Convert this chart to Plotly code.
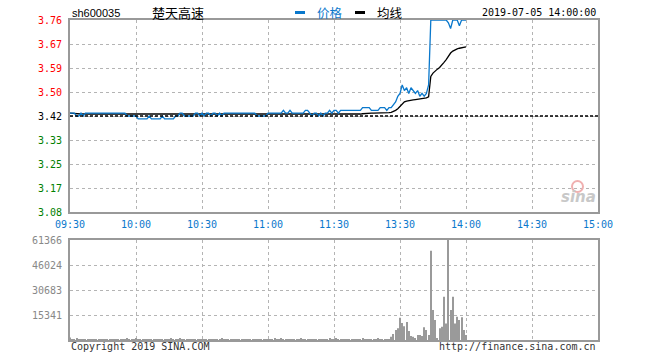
import plotly.graph_objects as go

# ---------------- data ----------------
STOCK_CODE = "sh600035"
STOCK_NAME = "楚天高速"
TIMESTAMP = "2019-07-05 14:00:00"
PREV_CLOSE = 3.42

# minute prices from 09:30 (index 0) to 14:00 (index 180)
PRICE = [
    3.43, 3.43, 3.43, 3.42, 3.42, 3.43, 3.42, 3.43, 3.43, 3.43,
    3.43, 3.43, 3.43, 3.43, 3.43, 3.43, 3.43, 3.43, 3.43, 3.43,
    3.43, 3.43, 3.43, 3.43, 3.43, 3.43, 3.42, 3.42, 3.42, 3.42,
    3.42, 3.41, 3.41, 3.41, 3.41, 3.41, 3.42, 3.41, 3.41, 3.41,
    3.41, 3.41, 3.42, 3.41, 3.41, 3.41, 3.41, 3.41, 3.42, 3.42,
    3.43, 3.43, 3.42, 3.42, 3.42, 3.42, 3.42, 3.43, 3.43, 3.42,
    3.43, 3.42, 3.43, 3.43, 3.42, 3.43, 3.43, 3.42, 3.43, 3.42,
    3.43, 3.43, 3.43, 3.43, 3.43, 3.43, 3.43, 3.43, 3.43, 3.43,
    3.43, 3.43, 3.43, 3.43, 3.43, 3.42, 3.42, 3.42, 3.42, 3.42,
    3.43, 3.43, 3.43, 3.43, 3.43, 3.43, 3.43, 3.44, 3.43, 3.43,
    3.44, 3.43, 3.43, 3.43, 3.43, 3.43, 3.43, 3.44, 3.44, 3.43,
    3.42, 3.43, 3.43, 3.42, 3.43, 3.42, 3.43, 3.43, 3.44, 3.43,
    3.44, 3.44, 3.43, 3.44, 3.44, 3.44, 3.44, 3.44, 3.44, 3.44,
    3.44, 3.44, 3.44, 3.45, 3.45, 3.45, 3.45, 3.44, 3.44, 3.44,
    3.44, 3.45, 3.45, 3.45, 3.44, 3.45, 3.45, 3.46, 3.47, 3.49,
    3.50, 3.53, 3.51, 3.52, 3.50, 3.52, 3.51, 3.50, 3.51, 3.49,
    3.50, 3.49, 3.50, 3.53, 3.76, 3.76, 3.76, 3.76, 3.76, 3.76,
    3.76, 3.76, 3.75, 3.73, 3.76, 3.76, 3.76, 3.74, 3.76, 3.76,
    3.76,
]

AVG_PRICE = [
    3.430, 3.429, 3.428, 3.427, 3.427, 3.427, 3.427, 3.427, 3.427, 3.427,
    3.427, 3.427, 3.427, 3.427, 3.427, 3.427, 3.427, 3.427, 3.427, 3.427,
    3.427, 3.427, 3.427, 3.427, 3.427, 3.427, 3.426, 3.426, 3.426, 3.426,
    3.426, 3.425, 3.425, 3.425, 3.425, 3.425, 3.425, 3.425, 3.425, 3.425,
    3.425, 3.425, 3.425, 3.425, 3.425, 3.425, 3.425, 3.425, 3.425, 3.425,
    3.425, 3.425, 3.425, 3.425, 3.425, 3.425, 3.425, 3.425, 3.425, 3.425,
    3.425, 3.425, 3.425, 3.425, 3.425, 3.425, 3.425, 3.425, 3.425, 3.425,
    3.425, 3.425, 3.425, 3.425, 3.425, 3.425, 3.425, 3.425, 3.425, 3.425,
    3.425, 3.425, 3.425, 3.425, 3.425, 3.425, 3.425, 3.425, 3.425, 3.425,
    3.425, 3.425, 3.425, 3.425, 3.425, 3.425, 3.425, 3.425, 3.425, 3.425,
    3.426, 3.426, 3.426, 3.426, 3.426, 3.426, 3.426, 3.426, 3.426, 3.426,
    3.426, 3.426, 3.426, 3.426, 3.426, 3.426, 3.426, 3.426, 3.426, 3.426,
    3.426, 3.426, 3.426, 3.426, 3.426, 3.426, 3.426, 3.426, 3.426, 3.426,
    3.426, 3.426, 3.427, 3.428, 3.429, 3.430, 3.430, 3.430, 3.430, 3.430,
    3.430, 3.430, 3.431, 3.431, 3.431, 3.432, 3.433, 3.436, 3.440, 3.446,
    3.455, 3.465, 3.470, 3.473, 3.475, 3.476, 3.477, 3.478, 3.479, 3.480,
    3.481, 3.482, 3.484, 3.488, 3.560, 3.572, 3.580, 3.586, 3.592, 3.600,
    3.610, 3.620, 3.633, 3.643, 3.650, 3.655, 3.658, 3.660, 3.662, 3.664,
    3.665,
]

VOLUME = [
    1500, 400, 300, 800, 200, 300, 500, 200, 100, 300,
    200, 200, 300, 100, 200, 400, 200, 100, 200, 600,
    300, 200, 100, 300, 200, 500, 800, 300, 200, 400,
    1200, 600, 300, 200, 500, 300, 200, 400, 100, 300,
    200, 500, 300, 200, 100, 300, 700, 200, 400, 300,
    900, 300, 200, 600, 200, 100, 300, 500, 200, 300,
    200, 400, 200, 300, 100, 200, 600, 300, 200, 1000,
    400, 200, 300, 100, 300, 200, 400, 200, 100, 300,
    200, 500, 200, 300, 600, 200, 100, 300, 200, 400,
    200, 300, 200, 700, 300, 200, 900, 400, 300, 200,
    500, 300, 200, 400, 300, 700, 200, 600, 300, 200,
    500, 300, 400, 200, 300, 500, 200, 300, 700, 300,
    400, 800, 300, 200, 400, 300, 200, 500, 300, 200,
    600, 300, 400, 900, 500, 300, 600, 400, 300, 500,
    700, 600, 600, 300, 600, 600, 2000, 3700, 6100, 7200,
    13700, 10400, 8500, 11000, 5500, 2500, 2000, 1000, 3000, 3000,
    2500, 7800, 6100, 3000, 54800, 18400, 12300, 1000, 7200, 8200,
    26600, 10200, 61366, 18400, 26600, 10200, 14300, 12300, 13900, 6100,
    3000,
]

PRICE_TICKS = [3.08, 3.165, 3.25, 3.335, 3.42, 3.505, 3.59, 3.675, 3.76]
PRICE_TICK_TEXT = ["3.08", "3.17", "3.25", "3.33", "3.42", "3.50", "3.59", "3.67", "3.76"]
PCT_TICKS = [-9.94, -7.455, -4.97, -2.485, 0.0, 2.485, 4.97, 7.455, 9.94]
PCT_TICK_TEXT = ["-9.94%", "-7.46%", "-4.97%", "-2.49%", "0.00%",
                 "+2.49%", "+4.97%", "+7.46%", "+9.94%"]
VOL_TICKS = [15341, 30683, 46024, 61366]
VOL_TICK_TEXT = ["15341", "30683", "46024", "61366"]
TIME_TICK_TEXT = ["09:30", "10:00", "10:30", "11:00", "11:30",
                  "13:30", "14:00", "14:30", "15:00"]

# full trading-day minute grid (Sina style: 09:30-11:30, 13:01-15:00)
TIMES = []
for m in list(range(9 * 60 + 30, 11 * 60 + 31)) + list(range(13 * 60 + 1, 15 * 60 + 1)):
    TIMES.append("%02d:%02d" % (m // 60, m % 60))
TIME_TICKS = [TIMES.index(t) for t in TIME_TICK_TEXT]
X = list(range(len(PRICE)))

# ---------------- style ----------------
RED = "#ff0000"
GREEN = "#008000"
BLUE = "#0a78cc"
FRAME = "#999999"
GRID = "#b4b4b4"
MONO = "DejaVu Sans Mono"


def colored(texts, vals, ref):
    out = []
    for t, v in zip(texts, vals):
        c = RED if v > ref + 1e-9 else (GREEN if v < ref - 1e-9 else "#000000")
        out.append('<span style="color:%s">%s</span>' % (c, t))
    return out


fig = go.Figure()
fig.add_trace(go.Scatter(x=X, y=AVG_PRICE, mode="lines", xaxis="x", yaxis="y",
                         line=dict(color="#000000", width=1.3), hoverinfo="skip"))
fig.add_trace(go.Scatter(x=X, y=PRICE, mode="lines", xaxis="x", yaxis="y",
                         line=dict(color=BLUE, width=1.3), hoverinfo="skip"))
fig.add_trace(go.Bar(x=X, y=VOLUME, xaxis="x2", yaxis="y2",
                     marker=dict(color="#9a9a9a", line=dict(width=0)), hoverinfo="skip"))

axis_common = dict(showline=True, mirror=True, linecolor=FRAME, linewidth=2,
                   zeroline=False, showgrid=True, gridcolor=GRID, griddash="dot",
                   gridwidth=1, ticks="")

fig.update_layout(
    width=660, height=360,
    margin=dict(l=70, r=62, t=20, b=20),
    paper_bgcolor="white", plot_bgcolor="white",
    showlegend=False, bargap=0.55,
    xaxis=dict(domain=[0, 1], anchor="y", range=[0, len(TIMES) - 1],
               tickvals=TIME_TICKS, ticktext=TIME_TICK_TEXT,
               tickfont=dict(family=MONO, size=10, color=BLUE),
               ticklabelstandoff=2, **axis_common),
    yaxis=dict(domain=[0.4, 1], anchor="x", range=[PRICE_TICKS[0], PRICE_TICKS[-1]],
               tickvals=PRICE_TICKS, ticktext=colored(PRICE_TICK_TEXT, PRICE_TICKS, PREV_CLOSE),
               tickfont=dict(family=MONO, size=10), ticklabelstandoff=4, **axis_common),
    yaxis3=dict(overlaying="y", side="right", anchor="x",
                range=[PCT_TICKS[0], PCT_TICKS[-1]], tickvals=PCT_TICKS,
                ticktext=colored(PCT_TICK_TEXT, PCT_TICKS, 0.0),
                tickfont=dict(family=MONO, size=10), ticklabelstandoff=4,
                showgrid=False, zeroline=False, showline=False, ticks=""),
    xaxis2=dict(domain=[0, 1], anchor="y2", matches="x", range=[0, len(TIMES) - 1],
                tickvals=TIME_TICKS, showticklabels=False, **axis_common),
    yaxis2=dict(domain=[0, 0.3125], anchor="x2", range=[0, VOL_TICKS[-1]],
                tickvals=VOL_TICKS, ticktext=VOL_TICK_TEXT,
                tickfont=dict(family=MONO, size=10, color="#888888"),
                ticklabelstandoff=4, **axis_common),
)

# previous close reference line
fig.add_shape(type="line", xref="x domain", x0=0, x1=1, yref="y", y0=PREV_CLOSE, y1=PREV_CLOSE,
              line=dict(color="#000000", width=1.3, dash="3px,2px"))


def px(xp):
    return (xp - 70) / 528.0


def py(yp):
    return (340 - yp) / 320.0


ann = []
ann.append(dict(text=STOCK_CODE, x=px(70), y=py(13), xanchor="left", yanchor="middle",
                font=dict(family="Liberation Sans", size=11, color="#000")))
ann.append(dict(text=STOCK_NAME, x=px(150), y=py(13), xanchor="left", yanchor="middle",
                font=dict(family="Noto Sans CJK SC", size=13, color="#000")))
ann.append(dict(text="价格", x=px(315), y=py(13), xanchor="left", yanchor="middle",
                font=dict(family="Noto Sans CJK SC", size=12.5, color=BLUE)))
ann.append(dict(text="均线", x=px(375), y=py(13), xanchor="left", yanchor="middle",
                font=dict(family="Noto Sans CJK SC", size=12.5, color="#000")))
ann.append(dict(text=TIMESTAMP, x=px(598), y=py(13), xanchor="right", yanchor="middle",
                font=dict(family=MONO, size=10, color="#000")))
ann.append(dict(text="Copyright 2019 SINA.COM", x=px(69), y=py(346), xanchor="left",
                yanchor="middle", font=dict(family=MONO, size=10, color="#333")))
ann.append(dict(text="http://finance.sina.com.cn", x=px(598), y=py(346), xanchor="right",
                yanchor="middle", font=dict(family=MONO, size=10, color="#333")))
ann.append(dict(text="<b><i>sina</i></b>", x=px(578), y=py(197), xanchor="center",
                yanchor="middle", font=dict(family="DejaVu Sans", size=15, color="#c8c8c8")))
for a in ann:
    a.update(xref="paper", yref="paper", showarrow=False)
fig.update_layout(annotations=ann)

# legend swatches
fig.add_shape(type="rect", xref="paper", yref="paper", x0=px(295), x1=px(305),
              y0=py(14), y1=py(11), fillcolor=BLUE, line=dict(width=0))
fig.add_shape(type="rect", xref="paper", yref="paper", x0=px(355), x1=px(365),
              y0=py(14), y1=py(11), fillcolor="#000", line=dict(width=0))
# sina eye logo
fig.add_shape(type="circle", xref="paper", yref="paper", x0=px(572), x1=px(583),
              y0=py(192), y1=py(181), fillcolor="rgba(255,255,255,0)",
              line=dict(color="#f0b0b0", width=2))

fig.write_html("out.html")
